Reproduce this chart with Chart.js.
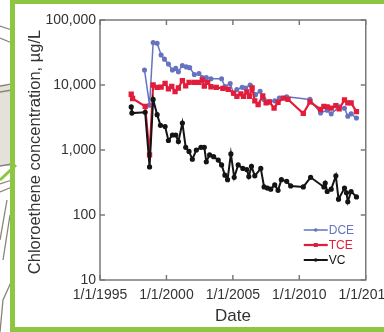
<!DOCTYPE html>
<html lang="en">
<head>
    <meta charset="UTF-8">
    <title>Chloroethene concentration</title>
    <script src="https://cdn.jsdelivr.net/npm/chart.js"></script>
    <style>
        html, body {
            margin: 0;
            padding: 0;
            width: 384px;
            height: 332px;
            overflow: hidden;
            background: #fff;
            font-family: "Liberation Sans", Arial, sans-serif;
        }
        .backdrop {
            position: absolute;
            left: 0;
            top: 0;
        }
        .frame {
            position: absolute;
            left: 10px;
            top: -1px;
            width: 420px;
            height: 323px;
            border: 5px solid #8dc641;
        }
        #chart {
            position: absolute;
            left: 0;
            top: 0;
            z-index: 2;
        }
    </style>
</head>
<body>
    <!-- bits of the slide behind the figure -->
    <svg class="backdrop" width="20" height="332">
        <rect x="0" y="86" width="12" height="80" fill="#e4e1da"/>
        <g stroke="#8b8378" stroke-width="1.3" fill="none">
            <path d="M0 26 L12 30"/>
            <path d="M0 38 L12 43"/>
            <path d="M0 86 L12 84"/>
            <path d="M0 92 L12 90"/>
            <path d="M0 166 L12 164"/>
            <path d="M0 184 L12 180"/>
            <path d="M0 192 L12 187"/>
            <path d="M7 200 L0 240"/>
            <path d="M10 215 L3 260"/>
            <path d="M12 280 L3 300 L0 332"/>
        </g>
        <path d="M0 180 L16 165" stroke="#8dc641" stroke-width="3"/>
    </svg>
    <div class="frame"></div>
    <canvas id="chart" width="400" height="332"></canvas>

    <script>
        const xTickYears = [1995, 2000, 2005, 2010, 2015];
        const yTickValues = [10, 100, 1000, 10000, 100000];
        const yTitle = 'Chloroethene concentration, µg/L';

        const dceDates = [1998.35, 1998.73, 1999.0, 1999.3, 1999.6, 1999.85, 2000.15, 2000.45, 2000.7, 2000.9,
            2001.2, 2001.5, 2001.75, 2002.1, 2002.45, 2002.7, 2003.0, 2003.35, 2004.15, 2004.4,
            2004.8, 2005.05, 2005.3, 2005.7, 2005.95, 2006.3, 2006.7, 2007.05, 2007.35, 2007.75,
            2008.15, 2008.5, 2009.05, 2010.8, 2011.6, 2012.1, 2012.4, 2013.0, 2013.4, 2013.65,
            2013.9, 2014.3];
        const dceConc = [17000, 4900, 45000, 44000, 29000, 25000, 21000, 17000, 18000, 16000,
            20000, 19000, 18500, 14500, 15000, 13000, 13000, 12500, 12500, 9500,
            10500, 7400, 8500, 9200, 9000, 10000, 7100, 8000, 6000, 5500,
            5700, 6300, 6600, 6000, 3700, 4100, 3600, 4600, 4400, 3300,
            3600, 3100];

        const tceDates = [1997.35, 1997.45, 1998.4, 1998.73, 1999.0, 1999.3, 1999.6, 1999.9, 2000.15, 2000.4,
            2000.65, 2000.9, 2001.2, 2001.45, 2001.7, 2002.1, 2002.45, 2002.7, 2002.85, 2003.1,
            2003.35, 2003.75, 2004.25, 2004.65, 2005.05, 2005.3, 2005.6, 2005.8, 2006.05, 2006.25,
            2006.45, 2006.65, 2006.9, 2007.25, 2007.5, 2007.75, 2008.1, 2008.4, 2008.8, 2009.15,
            2010.3, 2010.8, 2011.6, 2011.85, 2012.1, 2012.4, 2012.75, 2013.0, 2013.4, 2013.65,
            2013.9, 2014.3];
        const tceConc = [7200, 6200, 4700, 840, 10000, 9200, 9300, 10600, 8700, 9500,
            7900, 9000, 11700, 9700, 11000, 11000, 11000, 12000, 9600, 11000,
            9400, 9200, 8900, 8600, 7500, 6700, 7300, 6700, 7800, 6700,
            9000, 5700, 5000, 6800, 5300, 5500, 4400, 5400, 6300, 6000,
            3650, 5500, 4200, 4700, 4600, 4400, 4800, 4300, 5900, 5300,
            5300, 3900];

        const vcDates = [1997.35, 1997.4, 1998.4, 1998.73, 1999.0, 1999.3, 1999.55, 1999.9, 2000.15, 2000.45,
            2000.7, 2000.9, 2001.2, 2001.45, 2001.7, 2001.95, 2002.25, 2002.6, 2002.85, 2003.0,
            2003.25, 2003.55, 2003.9, 2004.15, 2004.4, 2004.6, 2004.85, 2005.1, 2005.4, 2005.75,
            2006.05, 2006.2, 2006.4, 2006.65, 2007.1, 2007.35, 2007.6, 2007.85, 2008.15, 2008.4,
            2008.65, 2009.05, 2009.35, 2010.3, 2010.85, 2011.85, 2011.95, 2012.1, 2012.4, 2012.75,
            2012.95, 2013.4, 2013.55, 2013.65, 2013.9, 2014.3];
        const vcConc = [4600, 3700, 3800, 550, 6000, 3500, 2400, 2300, 1400, 1700,
            1700, 1350, 2600, 1100, 950, 720, 1000, 1100, 1100, 660,
            840, 790, 700, 590, 410, 350, 870, 380, 590, 520,
            500, 390, 560, 400, 520, 270, 260, 250, 290, 240,
            350, 330, 280, 270, 380, 270, 310, 230, 250, 400,
            175, 260, 220, 160, 230, 190];

        const seriesNames = ['DCE', 'TCE', 'VC'];
        const seriesColors = ['#6573c0', '#e21d3b', '#141414'];

        function toPoints(dates, values) {
            return dates.map((d, i) => ({ x: d, y: values[i] }));
        }

        // axis box with inward ticks on all four sides, plus the rotated y title
        const framePlugin = {
            id: 'frame',
            beforeDatasetsDraw(chart) {
                const { ctx, chartArea: a, scales } = chart;
                ctx.save();
                ctx.strokeStyle = '#7a7a7a';
                ctx.lineWidth = 1.5;
                ctx.strokeRect(a.left, a.top, a.right - a.left, a.bottom - a.top);
                ctx.beginPath();
                xTickYears.forEach(v => {
                    const x = scales.x.getPixelForValue(v);
                    ctx.moveTo(x, a.bottom);
                    ctx.lineTo(x, a.bottom - 5);
                    ctx.moveTo(x, a.top);
                    ctx.lineTo(x, a.top + 5);
                });
                yTickValues.forEach(v => {
                    const y = scales.y.getPixelForValue(v);
                    ctx.moveTo(a.left, y);
                    ctx.lineTo(a.left + 5, y);
                    ctx.moveTo(a.right, y);
                    ctx.lineTo(a.right - 5, y);
                });
                ctx.stroke();

                ctx.translate(35, (a.top + a.bottom) / 2 + 2);
                ctx.rotate(-Math.PI / 2);
                ctx.font = '16.5px "Liberation Sans", Arial, sans-serif';
                ctx.fillStyle = '#333';
                ctx.textAlign = 'center';
                ctx.textBaseline = 'middle';
                ctx.fillText(yTitle, 0, 0);
                ctx.restore();
            }
        };

        // legend in the lower right corner of the plot
        const legendPlugin = {
            id: 'cornerLegend',
            afterDraw(chart) {
                const { ctx, chartArea: a } = chart;
                ctx.save();
                ctx.font = '12px "Liberation Sans", Arial, sans-serif';
                ctx.textBaseline = 'middle';
                chart.data.datasets.forEach((ds, i) => {
                    const y = a.bottom - 50 + i * 15;
                    const x0 = a.right - 62;
                    ctx.strokeStyle = ds.borderColor;
                    ctx.lineWidth = ds.borderWidth;
                    ctx.beginPath();
                    ctx.moveTo(x0, y);
                    ctx.lineTo(x0 + 24, y);
                    ctx.stroke();
                    ctx.fillStyle = ds.borderColor;
                    if (ds.pointStyle === 'rect') {
                        ctx.fillRect(x0 + 10, y - 2, 4, 4);
                    } else {
                        ctx.beginPath();
                        ctx.arc(x0 + 12, y, 1.8, 0, Math.PI * 2);
                        ctx.fill();
                    }
                    ctx.fillText(ds.label, x0 + 25, y + 0.5);
                });
                ctx.restore();
            }
        };

        new Chart(document.getElementById('chart'), {
            type: 'line',
            data: {
                datasets: [
                    {
                        label: seriesNames[0],
                        data: toPoints(dceDates, dceConc),
                        borderColor: seriesColors[0],
                        backgroundColor: seriesColors[0],
                        borderWidth: 1.5,
                        pointRadius: 1.8,
                        pointStyle: 'circle',
                        order: 2
                    },
                    {
                        label: seriesNames[1],
                        data: toPoints(tceDates, tceConc),
                        borderColor: seriesColors[1],
                        backgroundColor: seriesColors[1],
                        borderWidth: 2.2,
                        pointRadius: 2.2,
                        pointStyle: 'rect',
                        order: 1
                    },
                    {
                        label: seriesNames[2],
                        data: toPoints(vcDates, vcConc),
                        borderColor: seriesColors[2],
                        backgroundColor: seriesColors[2],
                        borderWidth: 2,
                        pointRadius: 1.6,
                        pointStyle: 'circle',
                        order: 0
                    }
                ]
            },
            options: {
                responsive: false,
                animation: false,
                devicePixelRatio: 1,
                layout: {
                    padding: { left: 12, top: 20, right: 34, bottom: 0 }
                },
                plugins: {
                    legend: { display: false },
                    tooltip: { enabled: false }
                },
                scales: {
                    x: {
                        type: 'linear',
                        min: 1995,
                        max: 2015,
                        grid: { display: false, drawTicks: false },
                        border: { display: false },
                        afterBuildTicks: scale => {
                            scale.ticks = xTickYears.map(v => ({ value: v }));
                        },
                        afterFit: scale => {
                            scale.height = 52;
                        },
                        ticks: {
                            autoSkip: false,
                            maxRotation: 0,
                            padding: 7,
                            color: '#333',
                            font: { family: '"Liberation Sans", Arial, sans-serif', size: 14 },
                            callback: v => '1/1/' + v
                        },
                        title: {
                            display: true,
                            text: 'Date',
                            color: '#333',
                            padding: { top: 0, bottom: 5 },
                            font: { family: '"Liberation Sans", Arial, sans-serif', size: 17 }
                        }
                    },
                    y: {
                        type: 'logarithmic',
                        min: 10,
                        max: 100000,
                        grid: { display: false, drawTicks: false },
                        border: { display: false },
                        afterBuildTicks: scale => {
                            scale.ticks = yTickValues.map(v => ({ value: v }));
                        },
                        afterFit: scale => {
                            scale.width = 88;
                        },
                        ticks: {
                            padding: 4,
                            color: '#333',
                            font: { family: '"Liberation Sans", Arial, sans-serif', size: 14 },
                            callback: v => Number(v).toLocaleString('en-US')
                        }
                    }
                }
            },
            plugins: [framePlugin, legendPlugin]
        });
    </script>
</body>
</html>
